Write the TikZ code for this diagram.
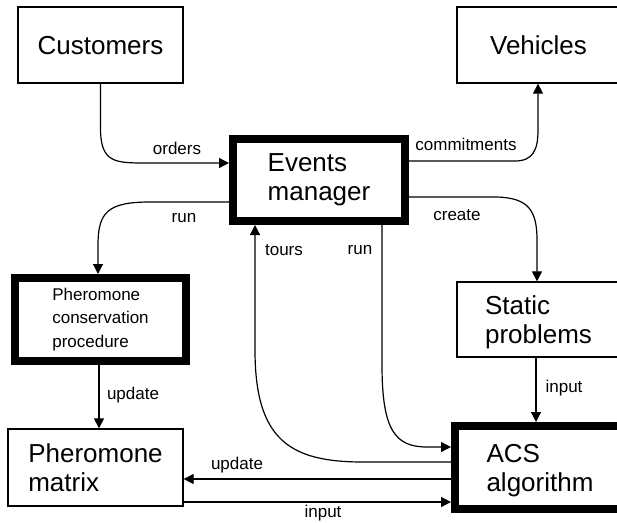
\documentclass[tikz,border=0pt]{standalone}
\usepackage{fontspec}
\setmainfont{Liberation Sans}
\usetikzlibrary{arrows.meta}
\begin{document}
\begin{tikzpicture}[x=1pt,y=-1pt,
  box/.style={draw, line width=1.3pt, inner sep=0pt, align=left, font=\fontsize{26}{29}\selectfont},
  thickbox/.style={box, line width=8pt},
  smallbox/.style={thickbox, font=\fontsize{17}{23.5}\selectfont},
  conn/.style={line width=1.2pt, -{Triangle[length=10pt,width=10pt]}},
  lbl/.style={font=\fontsize{17}{20}\selectfont, inner sep=0pt}]
\useasboundingbox (0,0) rectangle (617,522);
% boxes
\node[box, minimum width=165pt, minimum height=76pt, text depth=-5pt] (cust) at (100.5,45) {Customers};
\node[box, minimum width=163pt, minimum height=76pt, text depth=-5pt] (veh) at (538.5,45) {Vehicles};
\node[thickbox, minimum width=172pt, minimum height=82pt] (ev) at (319,180) {Events\\manager};
\node[smallbox, minimum width=171pt, minimum height=83pt] (pcp) at (100.5,319.5) {Pheromone\\conservation\\procedure};
\node[box, minimum width=163pt, minimum height=75pt, text depth=-3pt] (sp) at (538.5,319.5) {Static\\problems};
\node[box, minimum width=175pt, minimum height=77pt] (pm) at (95.5,467.5) {Pheromone\\matrix};
\node[thickbox, minimum width=170pt, minimum height=83pt, text depth=-3pt] (acs) at (540,467.5) {ACS\\algorithm};
% helper coordinates
\coordinate (ob) at (147,163);
\coordinate (r1) at (150,202);
\coordinate (r1b) at (98,245);
\coordinate (t1) at (255,350);
\coordinate (t2) at (363,462);
\coordinate (u1) at (382,365);
\coordinate (u2) at (427,447);
\coordinate (c1) at (515,161);
\coordinate (c2) at (538,130);
\coordinate (k1) at (497,197);
\coordinate (k2) at (537,240);
\coordinate (i1) at (536,0);
\coordinate (p1) at (99,0);
\coordinate (m1) at (0,479);
\coordinate (m2) at (0,502);
% connectors
\draw[conn] (cust.south) -- (100.5,128) .. controls (100.5,163) and (115,163) .. (ob) -- (ob -| ev.west);
\draw[conn] (r1 -| ev.west) -- (r1) .. controls (108,202) and (98,212) .. (r1b) -- (r1b |- pcp.north);
\draw[conn] (t2 -| acs.west) -- (t2) .. controls (290,462) and (255,440) .. (t1) -- (t1 |- ev.south);
\draw[conn] (u1 |- ev.south) -- (u1) .. controls (382,430) and (395,447) .. (u2) -- (u2 -| acs.west);
\draw[conn] (c1 -| ev.east) -- (c1) .. controls (533,161) and (538,150) .. (c2) -- (c2 |- veh.south);
\draw[conn] (k1 -| ev.east) -- (k1) .. controls (528,198) and (537,210) .. (k2) -- (k2 |- sp.north);
\draw[conn] (i1 |- sp.south) -- (i1 |- acs.north);
\draw[conn] (p1 |- pcp.south) -- (p1 |- pm.north);
\draw[conn] (m1 -| acs.west) -- (m1 -| pm.east);
\draw[conn] (m2 -| pm.east) -- (m2 -| acs.west);
% labels
\node[lbl] (lorders) at (177,148) {orders};
\node[lbl] (lrun1) at (184,218) {run};
\node[lbl] (ltours) at (284,250) {tours};
\node[lbl] (lrun2) at (360,250) {run};
\node[lbl] (lcomm) at (466,144) {commitments};
\node[lbl] (lcreate) at (457,215) {create};
\node[lbl] (lupd1) at (133,395) {update};
\node[lbl] (linp1) at (564,388) {input};
\node[lbl] (lupd2) at (237,465) {update};
\node[lbl] (linp2) at (323,513) {input};
\end{tikzpicture}
\end{document}
